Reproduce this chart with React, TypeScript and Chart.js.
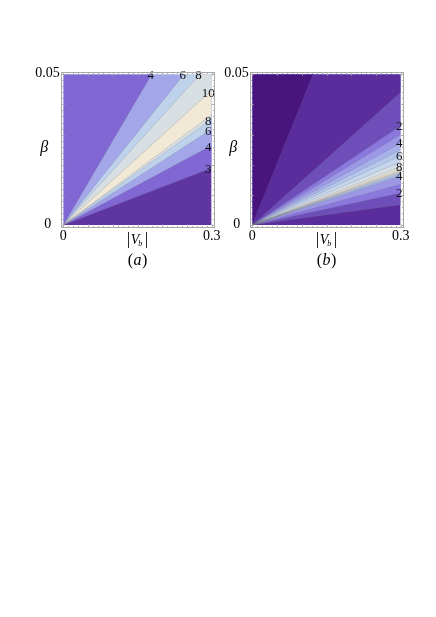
import React, { useEffect, useRef } from "react";
import { Chart, registerables } from "chart.js";

Chart.register(...registerables);

// ---- axes ----
const X_MAX = 0.3;
const Y_MAX = 0.05;
const xTickValues = [0, 0.3];
const xTickLabels = ["0", "0.3"];
const yTickValues = [0, 0.05];
const yTickLabels = ["0", "0.05"];
const xMinorStep = 0.01;
const xMajorStep = 0.05;
const yMinorStep = 0.002;
const yMajorStep = 0.01;

// ---- panel (a): contour boundaries as beta/|Vb| slopes (ascending) ----
const slopesA = [0.063, 0.088, 0.106, 0.117, 0.122, 0.149, 0.181, 0.205, 0.28];
const levelLabelsA = ["3", "4", "6", "8", "", "10", "8", "6", "4"];
const bandColorsA = [
  "#5F35A2", "#8067D3", "#A3A6E8", "#BED3EB", "#D8DFE2",
  "#F1E8D5", "#D8DFE2", "#BED3EB", "#A3A6E8", "#8067D3",
];

// ---- panel (b) ----
const slopesB = [
  0.0225, 0.0355, 0.045, 0.0537, 0.0555, 0.057, 0.0583, 0.0593, 0.0603, 0.062,
  0.0647, 0.07, 0.0768, 0.0833, 0.0905, 0.1, 0.1097, 0.1467, 0.4065,
];
const levelLabelsB = [
  "", "2", "", "4", "", "", "", "", "", "", "8", "", "6", "", "4", "", "2", "", "",
];
const bandColorsB = [
  "#5B2C9C", "#6E4EB9", "#8A78DD", "#9C98E6", "#A8B2EA", "#B5C8EB", "#C5D6EC",
  "#D6DFE5", "#E5E3DA", "#F1E6CF", "#E5E3DA", "#D6DFE5", "#C5D6EC", "#B5C8EB",
  "#A8B2EA", "#9C98E6", "#8A78DD", "#6E4EB9", "#5B2C9C", "#48157F",
];

const SERIF = "'Liberation Serif', 'Times New Roman', serif";

function boundaryPoints(k: number) {
  const yRight = k * X_MAX;
  if (yRight <= Y_MAX) return [{ x: 0, y: 0 }, { x: X_MAX, y: yRight }];
  return [{ x: 0, y: 0 }, { x: Y_MAX / k, y: Y_MAX }, { x: X_MAX, y: Y_MAX }];
}
function contourPoints(k: number) {
  const yRight = k * X_MAX;
  if (yRight <= Y_MAX) return [{ x: 0, y: 0 }, { x: X_MAX, y: yRight }];
  return [{ x: 0, y: 0 }, { x: Y_MAX / k, y: Y_MAX }];
}

type PanelProps = {
  slopes: number[];
  labels: string[];
  colors: string[];
  caption: string;
  left: number;
  labelInset: number;
};

function ContourPanel({ slopes, labels, colors, caption, left, labelInset }: PanelProps) {
  const ref = useRef<HTMLCanvasElement | null>(null);
  useEffect(() => {
    const canvas = ref.current;
    if (!canvas) return;
    const n = slopes.length;
    const datasets: any[] = [];
    datasets.push({
      data: [{ x: 0, y: 0 }, { x: X_MAX, y: 0 }],
      fill: "end",
      backgroundColor: colors[0],
      borderColor: "transparent",
      borderWidth: 0,
      order: n + 2,
    });
    slopes.forEach((k, i) => {
      datasets.push({
        data: boundaryPoints(k),
        fill: "end",
        backgroundColor: colors[i + 1],
        borderColor: "transparent",
        borderWidth: 0,
        order: n + 1 - i,
      });
    });
    slopes.forEach((k) => {
      datasets.push({
        data: contourPoints(k),
        fill: false,
        borderColor: "rgba(110,110,130,0.35)",
        borderWidth: 0.7,
        order: 0,
      });
    });

    const deco = {
      id: "deco",
      afterDatasetsDraw(chart: any) {
        const ctx = chart.ctx;
        const xs = chart.scales.x;
        const ys = chart.scales.y;
        const area = chart.chartArea;
        ctx.save();
        ctx.fillStyle = "#111";
        ctx.font = `13px ${SERIF}`;
        ctx.textAlign = "center";
        ctx.textBaseline = "middle";
        slopes.forEach((k, i) => {
          const t = labels[i];
          if (!t) return;
          if (k * X_MAX <= Y_MAX) {
            const px = area.right - labelInset;
            const xv = xs.getValueForPixel(px);
            const py = ys.getPixelForValue(k * xv);
            ctx.fillText(t, px, py);
          } else {
            const py = area.top + 1.5;
            const yv = ys.getValueForPixel(py);
            const px = xs.getPixelForValue(yv / k);
            ctx.fillText(t, px, py);
          }
        });
        ctx.restore();
      },
      afterDraw(chart: any) {
        const ctx = chart.ctx;
        const xs = chart.scales.x;
        const ys = chart.scales.y;
        const a = chart.chartArea;
        ctx.save();
        // frame
        const fl = Math.round(a.left - 2) + 0.5;
        const fr = Math.round(a.right + 2) + 0.5;
        const ft = Math.round(a.top - 2) + 0.5;
        const fb = Math.round(a.bottom + 2) + 0.5;
        ctx.strokeStyle = "#a8a8a8";
        ctx.lineWidth = 1;
        ctx.strokeRect(fl, ft, fr - fl, fb - ft);
        // ticks
        ctx.strokeStyle = "#b0b0b0";
        ctx.beginPath();
        for (let i = 0; i * xMinorStep <= X_MAX + 1e-9; i++) {
          const v = i * xMinorStep;
          const major = Math.abs(v / xMajorStep - Math.round(v / xMajorStep)) < 1e-6;
          const len = major ? 3 : 1.5;
          const px = Math.round(xs.getPixelForValue(v)) + 0.5;
          ctx.moveTo(px, fb); ctx.lineTo(px, fb - len);
          ctx.moveTo(px, ft); ctx.lineTo(px, ft + len);
        }
        for (let i = 0; i * yMinorStep <= Y_MAX + 1e-9; i++) {
          const v = i * yMinorStep;
          const major = Math.abs(v / yMajorStep - Math.round(v / yMajorStep)) < 1e-6;
          const len = major ? 3 : 1.5;
          const py = Math.round(ys.getPixelForValue(v)) + 0.5;
          ctx.moveTo(fl, py); ctx.lineTo(fl + len, py);
          ctx.moveTo(fr, py); ctx.lineTo(fr - len, py);
        }
        ctx.stroke();

        // tick labels
        ctx.fillStyle = "#000";
        ctx.font = `14px ${SERIF}`;
        ctx.textBaseline = "middle";
        ctx.textAlign = "center";
        xTickValues.forEach((v, i) => {
          ctx.fillText(xTickLabels[i], xs.getPixelForValue(v), a.bottom + 11);
        });
        ctx.textAlign = "right";
        yTickValues.forEach((v, i) => {
          const isZero = v === 0;
          ctx.fillText(yTickLabels[i], isZero ? a.left - 12 : a.left - 3.5, ys.getPixelForValue(v) - 1);
        });

        // y title beta
        ctx.textAlign = "center";
        ctx.font = `italic 16px ${SERIF}`;
        ctx.fillText("\u03B2", a.left - 19, (a.top + a.bottom) / 2 - 2);

        // x title |V_b|
        const cx = (a.left + a.right) / 2;
        const cy = a.bottom + 15;
        ctx.textAlign = "left";
        ctx.font = `17px ${SERIF}`;
        const barW = ctx.measureText("|").width;
        ctx.font = `italic 14px ${SERIF}`;
        const vW = ctx.measureText("V").width;
        ctx.font = `italic 8px ${SERIF}`;
        const bW = ctx.measureText("b").width;
        const total = barW * 2 + vW + bW + 2;
        let x = cx - total / 2;
        ctx.font = `17px ${SERIF}`;
        ctx.fillText("|", x, cy);
        x += barW + 0.5;
        ctx.font = `italic 14px ${SERIF}`;
        ctx.fillText("V", x, cy);
        x += vW;
        ctx.font = `italic 8px ${SERIF}`;
        ctx.fillText("b", x - 1, cy + 4);
        x += bW + 1.5;
        ctx.font = `17px ${SERIF}`;
        ctx.fillText("|", x, cy);

        // caption (a)/(b)
        const capY = a.bottom + 36;
        ctx.font = `16px ${SERIF}`;
        const pW = ctx.measureText("(").width;
        const qW = ctx.measureText(")").width;
        ctx.font = `italic 16px ${SERIF}`;
        const cW = ctx.measureText(caption).width;
        let cx0 = cx - (pW + cW + qW + 1) / 2;
        ctx.font = `16px ${SERIF}`;
        ctx.fillText("(", cx0, capY);
        cx0 += pW + 0.5;
        ctx.font = `italic 16px ${SERIF}`;
        ctx.fillText(caption, cx0, capY);
        cx0 += cW + 0.5;
        ctx.font = `16px ${SERIF}`;
        ctx.fillText(")", cx0, capY);
        ctx.restore();
      },
    };

    const chart = new Chart(canvas, {
      type: "line",
      data: { datasets },
      options: {
        animation: false,
        responsive: false,
        maintainAspectRatio: false,
        devicePixelRatio: 1,
        layout: { padding: { left: 63.3, top: 34.3, right: 18.3, bottom: 55 } },
        elements: { point: { radius: 0, hoverRadius: 0 }, line: { tension: 0 } },
        plugins: { legend: { display: false }, tooltip: { enabled: false } },
        events: [],
        scales: {
          x: { type: "linear", min: 0, max: X_MAX, display: false },
          y: { type: "linear", min: 0, max: Y_MAX, display: false },
        },
      },
      plugins: [deco],
    } as any);
    return () => chart.destroy();
  }, []);
  return (
    <canvas
      ref={ref}
      width={230}
      height={240}
      style={{ position: "absolute", left, top: 40, width: 230, height: 240 }}
    />
  );
}

export default function App() {
  return (
    <div style={{ position: "absolute", left: 0, top: 0, width: 436, height: 617, background: "#fff" }}>
      <ContourPanel slopes={slopesA} labels={levelLabelsA} colors={bandColorsA} caption="a" left={0} labelInset={3.5} />
      <ContourPanel slopes={slopesB} labels={levelLabelsB} colors={bandColorsB} caption="b" left={189} labelInset={1.5} />
    </div>
  );
}
